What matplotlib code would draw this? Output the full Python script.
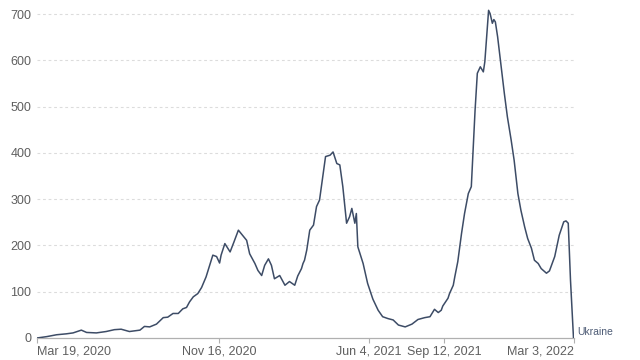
import matplotlib
matplotlib.use("Agg")
import matplotlib.pyplot as plt
import matplotlib.transforms as mtrans
import pandas as pd

plt.rcParams['font.family'] = ['Liberation Sans', 'DejaVu Sans']

country = "Ukraine"
dates = [
    "2020-03-19", "2020-04-01", "2020-04-14", "2020-04-27", "2020-05-06", "2020-05-17",
    "2020-05-24", "2020-06-06", "2020-06-19", "2020-06-30", "2020-07-09", "2020-07-20",
    "2020-08-03", "2020-08-09", "2020-08-16", "2020-08-25", "2020-09-03", "2020-09-09",
    "2020-09-16", "2020-09-23", "2020-09-29", "2020-10-04", "2020-10-08", "2020-10-13",
    "2020-10-19", "2020-10-24", "2020-10-30", "2020-11-08", "2020-11-13", "2020-11-17",
    "2020-11-19", "2020-11-24", "2020-12-01", "2020-12-06", "2020-12-12", "2020-12-16",
    "2020-12-23", "2020-12-27", "2021-01-03", "2021-01-07", "2021-01-12", "2021-01-16",
    "2021-01-21", "2021-01-25", "2021-01-29", "2021-02-05", "2021-02-12", "2021-02-18",
    "2021-02-25", "2021-03-01", "2021-03-06", "2021-03-08", "2021-03-10", "2021-03-13",
    "2021-03-17", "2021-03-22", "2021-03-26", "2021-03-30", "2021-04-04", "2021-04-07",
    "2021-04-13", "2021-04-17", "2021-04-22", "2021-04-26", "2021-04-30", "2021-05-05",
    "2021-05-09", "2021-05-12", "2021-05-16", "2021-05-18", "2021-05-20", "2021-05-27",
    "2021-06-02", "2021-06-09", "2021-06-16", "2021-06-22", "2021-06-29", "2021-07-06",
    "2021-07-13", "2021-07-22", "2021-07-31", "2021-08-08", "2021-08-17", "2021-08-24",
    "2021-08-30", "2021-09-04", "2021-09-08", "2021-09-10", "2021-09-17", "2021-09-19",
    "2021-09-24", "2021-09-26", "2021-09-30", "2021-10-05", "2021-10-09", "2021-10-14",
    "2021-10-18", "2021-10-20", "2021-10-23", "2021-10-26", "2021-10-30", "2021-11-03",
    "2021-11-05", "2021-11-08", "2021-11-10", "2021-11-12", "2021-11-15", "2021-11-17",
    "2021-11-19", "2021-11-22", "2021-11-27", "2021-12-01", "2021-12-05", "2021-12-10",
    "2021-12-14", "2021-12-19", "2021-12-23", "2021-12-28", "2022-01-01", "2022-01-06",
    "2022-01-10", "2022-01-15", "2022-01-19", "2022-01-26", "2022-01-30", "2022-02-06",
    "2022-02-12", "2022-02-18", "2022-02-21", "2022-02-24", "2022-02-27", "2022-03-03",
]
deaths = [
    0, 3, 7, 9, 11, 17,
    12, 11, 14, 18, 19, 14,
    17, 25, 24, 30, 44, 45,
    53, 53, 63, 66, 78, 89,
    96, 109, 132, 179, 176, 162,
    179, 204, 186, 207, 233, 225,
    211, 182, 161, 146, 135, 157,
    171, 157, 128, 135, 114, 122,
    114, 134, 150, 161, 168, 190,
    233, 244, 284, 298, 356, 392,
    395, 402, 377, 374, 327, 248,
    262, 280, 248, 269, 197, 161,
    118, 84, 60, 46, 42, 39,
    28, 24, 30, 40, 44, 46,
    62, 55, 60, 69, 86, 96,
    114, 132, 165, 226, 269, 312,
    327, 392, 492, 572, 586, 575,
    597, 665, 708, 701, 680, 688,
    683, 651, 582, 528, 478, 428,
    384, 312, 276, 240, 215, 194,
    168, 161, 150, 140, 145, 176,
    222, 251, 253, 248, 125, 0,
]
tick_dates = ["2020-03-19", "2020-11-16", "2021-06-04", "2021-09-12", "2022-03-03"]
tick_labels = ["Mar 19, 2020", "Nov 16, 2020", "Jun 4, 2021", "Sep 12, 2021", "Mar 3, 2022"]
y_ticks = [0, 100, 200, 300, 400, 500, 600, 700]

x = pd.to_datetime(dates)
xt = pd.to_datetime(tick_dates)

fig = plt.figure(figsize=(6.4, 3.6), dpi=100)
ax = fig.add_axes([37 / 640, 22 / 360, (573.5 - 37) / 640, (338 - 2) / 360])

line_color = "#3d4c66"
ax.plot(x, deaths, color=line_color, lw=1.1, solid_joinstyle="round", zorder=3)

ax.set_xlim(pd.Timestamp("2020-03-19"), pd.Timestamp("2022-03-03"))
ax.set_ylim(0, 726)

ax.set_yticks(y_ticks)
ax.set_yticklabels([str(v) for v in y_ticks])
ax.set_xticks(xt)
ax.set_xticklabels(tick_labels)

labels = ax.get_xticklabels()
labels[0].set_horizontalalignment("left")
labels[-1].set_horizontalalignment("right")

for v in y_ticks[1:]:
    ax.axhline(v, color="#dcdcdc", lw=0.8, ls=(0, (2.5, 2.5)), zorder=1)

for s in ["top", "right", "left"]:
    ax.spines[s].set_visible(False)
ax.spines["bottom"].set_color("#b0b0b0")
ax.spines["bottom"].set_linewidth(0.9)

ax.tick_params(axis="y", length=0, pad=4, labelsize=9, labelcolor="#5f5f5f")
ax.tick_params(axis="x", length=3.5, width=0.8, color="#b0b0b0", pad=2,
               labelsize=9, labelcolor="#5f5f5f")

offset = mtrans.offset_copy(ax.transAxes, fig=fig, x=4, y=1, units="dots")
ax.text(1.0, 0, country, transform=offset, ha="left", va="bottom",
        fontsize=7.5, color="#4d5b75", clip_on=False)

fig.savefig("out.png", dpi=100, facecolor="white")
